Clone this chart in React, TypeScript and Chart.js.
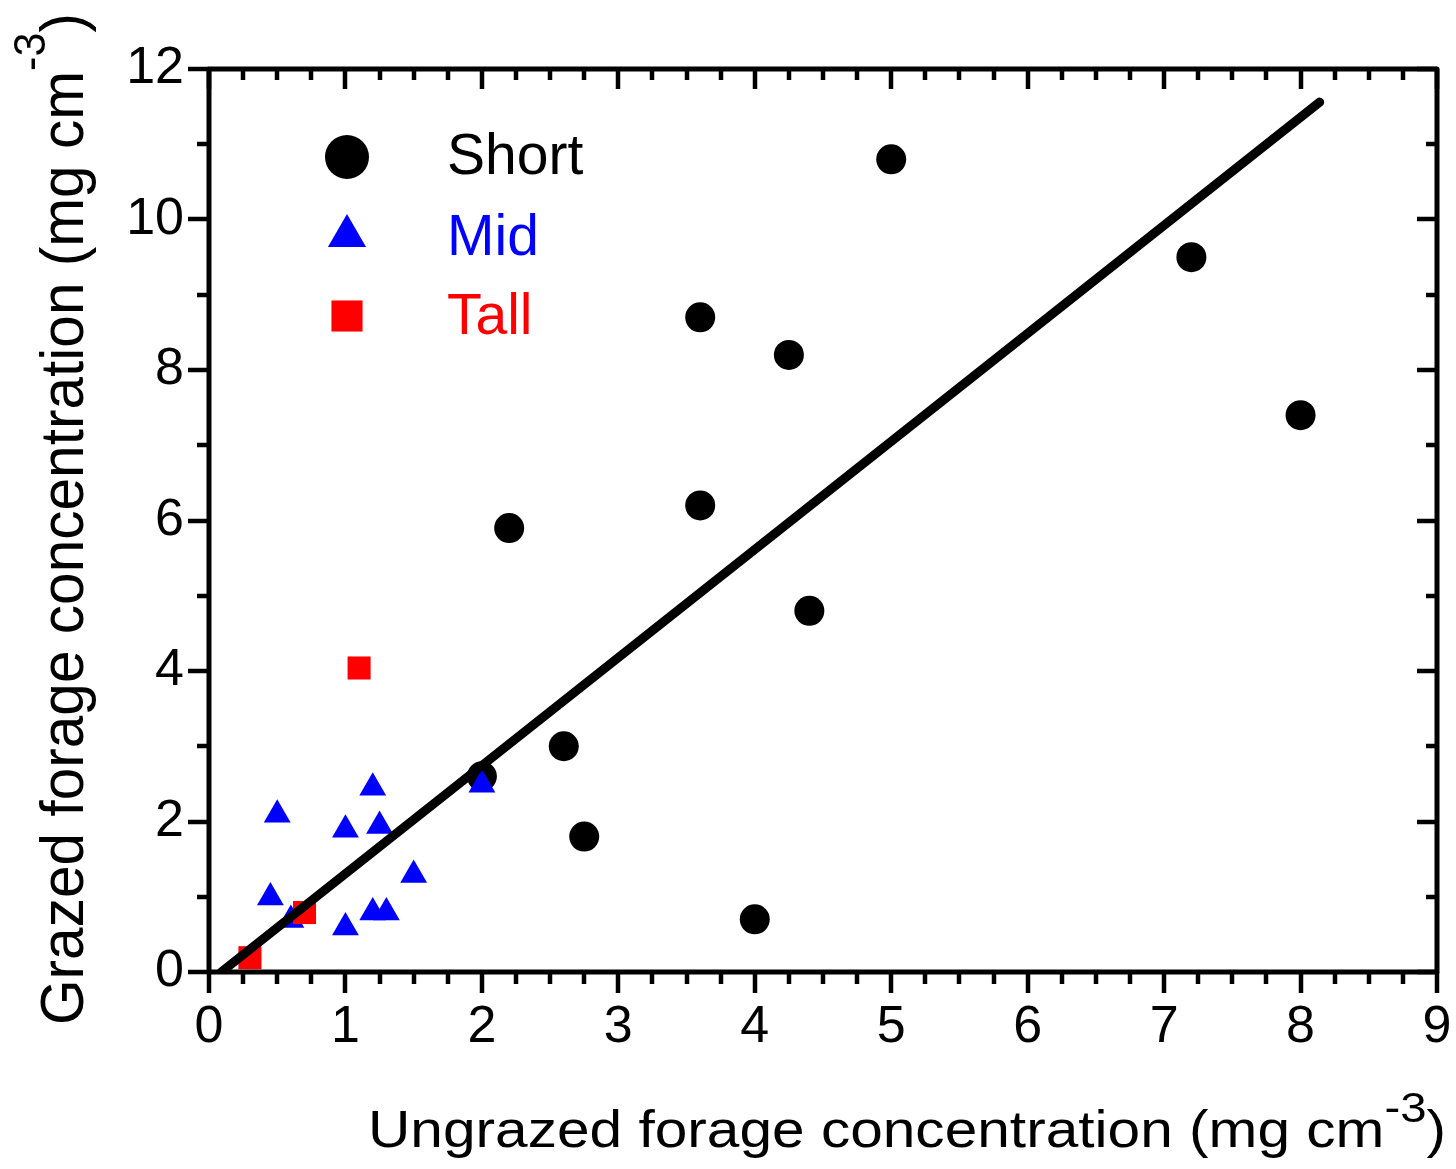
import React, { useEffect, useRef } from 'react';
import { Chart, registerables } from 'chart.js';

Chart.register(...registerables);

// ---- data ----
const shortX = [5.0, 7.2, 3.6, 4.25, 8.0, 3.6, 2.2, 4.4, 2.6, 2.0, 2.75, 4.0];
const shortY = [10.8, 9.5, 8.7, 8.2, 7.4, 6.2, 5.9, 4.8, 3.0, 2.6, 1.8, 0.7];
const midX = [0.5, 1.2, 1.0, 1.25, 1.5, 0.45, 0.6, 1.2, 1.3, 1.0, 2.0];
const midY = [2.09, 2.45, 1.89, 1.94, 1.29, 0.99, 0.69, 0.79, 0.79, 0.59, 2.49];
const tallX = [0.3, 0.7, 1.1];
const tallY = [0.19, 0.79, 4.04];
const fitX = [0.09, 8.14];
const fitY = [0, 11.56];
const xMajorTicks = [0, 1, 2, 3, 4, 5, 6, 7, 8, 9];
const yMajorTicks = [0, 2, 4, 6, 8, 10, 12];
const xMinorStep = 0.25;
const yMinorStep = 1;
const seriesNames = ['Short', 'Mid', 'Tall'];
const seriesColors = ['#000000', '#0000FF', '#FF0000'];
const xTitleMain = 'Ungrazed forage concentration (mg cm';
const yTitleMain = 'Grazed forage concentration (mg cm';
const titleSup = '-3';
const titleEnd = ')';

const FONT = '"Liberation Sans", Arial, Helvetica, sans-serif';

const toPts = (xs: number[], ys: number[]) => xs.map((x, i) => ({ x, y: ys[i] }));

function drawMarker(ctx: CanvasRenderingContext2D, kind: string, x: number, y: number, r: number, color: string) {
  ctx.save();
  ctx.fillStyle = color;
  ctx.beginPath();
  if (kind === 'circle') {
    ctx.arc(x, y, r, 0, Math.PI * 2);
  } else if (kind === 'triangle') {
    const w = r * Math.sqrt(3) / 2;
    ctx.moveTo(x, y - r);
    ctx.lineTo(x + w, y + r / 2);
    ctx.lineTo(x - w, y + r / 2);
    ctx.closePath();
  } else {
    const s = Math.SQRT1_2 * r;
    ctx.rect(x - s, y - s, 2 * s, 2 * s);
  }
  ctx.fill();
  ctx.restore();
}

function drawTitle(
  ctx: CanvasRenderingContext2D,
  x: number,
  y: number,
  rot: number,
  target: number,
  main: string,
  mainSize: number,
  supSize: number,
  raise: number
) {
  ctx.save();
  ctx.translate(x, y);
  ctx.rotate(rot);
  ctx.fillStyle = '#000';
  ctx.textBaseline = 'alphabetic';
  ctx.textAlign = 'left';
  ctx.font = `${mainSize}px ${FONT}`;
  const w1 = ctx.measureText(main).width;
  const w3 = ctx.measureText(titleEnd).width;
  ctx.font = `${supSize}px ${FONT}`;
  const w2 = ctx.measureText(titleSup).width;
  const total = w1 + w2 + w3;
  ctx.scale(target / total, 1);
  ctx.font = `${mainSize}px ${FONT}`;
  ctx.fillText(main, 0, 0);
  ctx.fillText(titleEnd, w1 + w2, 0);
  ctx.font = `${supSize}px ${FONT}`;
  ctx.fillText(titleSup, w1, -raise);
  ctx.restore();
}

const framePlugin = {
  id: 'framePlugin',
  afterDraw(chart: any) {
    const ctx: CanvasRenderingContext2D = chart.ctx;
    const { left, right, top, bottom } = chart.chartArea;
    const xs = chart.scales.x;
    const ys = chart.scales.y;
    ctx.save();
    ctx.strokeStyle = '#000';
    ctx.lineCap = 'butt';
    ctx.lineWidth = 4.5;
    const majorOut = 21, minorOut = 12, majorIn = 20, minorIn = 11;
    const xMin = xs.min, xMax = xs.max, yMin = ys.min, yMax = ys.max;
    for (let v = xMin; v <= xMax + 1e-9; v += xMinorStep) {
      const major = xMajorTicks.some((t) => Math.abs(t - v) < 1e-6);
      const px = Math.round(xs.getPixelForValue(v));
      ctx.beginPath();
      ctx.moveTo(px, bottom);
      ctx.lineTo(px, bottom + (major ? majorOut : minorOut));
      ctx.moveTo(px, top);
      ctx.lineTo(px, top + (major ? majorIn : minorIn));
      ctx.stroke();
    }
    for (let v = yMin; v <= yMax + 1e-9; v += yMinorStep) {
      const major = yMajorTicks.some((t) => Math.abs(t - v) < 1e-6);
      const py = Math.round(ys.getPixelForValue(v));
      ctx.beginPath();
      ctx.moveTo(left, py);
      ctx.lineTo(left - (major ? majorOut : minorOut), py);
      ctx.moveTo(right, py);
      ctx.lineTo(right - (major ? majorIn : minorIn), py);
      ctx.stroke();
    }
    ctx.lineWidth = 5;
    ctx.lineJoin = 'round';
    ctx.strokeRect(left, top, right - left, bottom - top);
    ctx.restore();

    // legend
    const kinds = ['circle', 'triangle', 'rect'];
    const mx = left + 138;
    const markerY = [top + 88, top + 167, top + 247];
    const textY = [top + 105, top + 186, top + 265];
    for (let i = 0; i < seriesNames.length; i++) {
      drawMarker(ctx, kinds[i], mx, markerY[i], 22, seriesColors[i]);
      ctx.save();
      ctx.fillStyle = seriesColors[i];
      ctx.font = `57px ${FONT}`;
      ctx.textBaseline = 'alphabetic';
      ctx.textAlign = 'left';
      ctx.fillText(seriesNames[i], left + 238, textY[i]);
      ctx.restore();
    }

    // axis titles
    drawTitle(ctx, 368, 1147, 0, 1078, xTitleMain, 52, 42, 25);
    drawTitle(ctx, 83, 1025, -Math.PI / 2, 1012, yTitleMain, 61, 45, 38);
  },
};

export default function App() {
  const ref = useRef<HTMLCanvasElement | null>(null);
  useEffect(() => {
    if (!ref.current) return;
    const chart = new Chart(ref.current, {
      type: 'scatter',
      data: {
        datasets: [
          {
            label: 'Fit',
            data: toPts(fitX, fitY),
            showLine: true,
            borderColor: '#000',
            backgroundColor: '#000',
            borderWidth: 9,
            borderCapStyle: 'round',
            pointRadius: 0,
            order: 0,
          } as any,
          {
            label: seriesNames[2],
            data: toPts(tallX, tallY),
            pointStyle: 'rect',
            pointRadius: 16.3,
            backgroundColor: seriesColors[2],
            borderColor: seriesColors[2],
            pointBorderWidth: 0,
            order: 1,
          },
          {
            label: seriesNames[1],
            data: toPts(midX, midY),
            pointStyle: 'triangle',
            pointRadius: 15.5,
            backgroundColor: seriesColors[1],
            borderColor: seriesColors[1],
            pointBorderWidth: 0,
            order: 2,
          },
          {
            label: seriesNames[0],
            data: toPts(shortX, shortY),
            pointStyle: 'circle',
            pointRadius: 15,
            backgroundColor: seriesColors[0],
            borderColor: seriesColors[0],
            pointBorderWidth: 0,
            order: 3,
          },
        ],
      },
      options: {
        animation: false,
        responsive: false,
        devicePixelRatio: 1,
        events: [],
        layout: { padding: { left: 0, right: 19, top: 69, bottom: 0 } },
        plugins: {
          legend: { display: false },
          tooltip: { enabled: false },
          title: { display: false },
        },
        scales: {
          x: {
            type: 'linear',
            min: 0,
            max: 9,
            grid: { display: false, drawTicks: false },
            border: { display: false },
            afterFit: (s: any) => {
              s.height = 1169 - 972;
              s.paddingLeft = 0;
              s.paddingRight = 0;
            },
            afterBuildTicks: (s: any) => {
              s.ticks = xMajorTicks.map((v) => ({ value: v }));
            },
            ticks: {
              padding: 24,
              color: '#000',
              font: { family: FONT, size: 52 },
              maxRotation: 0,
              callback: (v: any) => String(v),
            },
          },
          y: {
            type: 'linear',
            min: 0,
            max: 12,
            grid: { display: false, drawTicks: false },
            border: { display: false },
            afterFit: (s: any) => {
              s.width = 209;
              s.paddingTop = 0;
              s.paddingBottom = 0;
            },
            afterBuildTicks: (s: any) => {
              s.ticks = yMajorTicks.map((v) => ({ value: v }));
            },
            ticks: {
              padding: 25,
              color: '#000',
              font: { family: FONT, size: 52 },
              callback: (v: any) => String(v),
            },
          },
        },
      },
      plugins: [framePlugin],
    } as any);
    return () => chart.destroy();
  }, []);
  return (
    <div style={{ position: 'fixed', left: 0, top: 0, width: 1456, height: 1169, background: '#fff' }}>
      <canvas ref={ref} width={1456} height={1169} style={{ display: 'block' }} />
    </div>
  );
}
